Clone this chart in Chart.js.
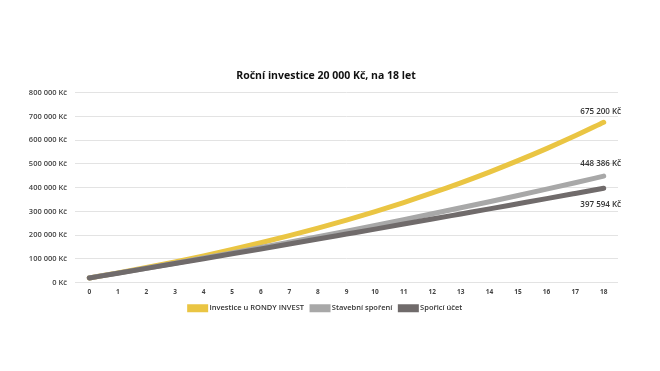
<!DOCTYPE html>
<html>
<head>
<meta charset="utf-8">
<script src="https://cdn.jsdelivr.net/npm/chart.js@4/dist/chart.umd.min.js"></script>
<style>
html,body{margin:0;padding:0;background:#fff;}
#c{display:block;}
</style>
</head>
<body>
<canvas id="c" width="660" height="371"></canvas>
<script>
const years = ['0','1','2','3','4','5','6','7','8','9','10','11','12','13','14','15','16','17','18'];
const rondy = [20000,41200,63700,87500,112700,139500,167900,198000,229800,263600,299400,337400,377600,420300,465500,513500,564300,618100,675200];
const stavebni = [20000,40400,61100,82200,103700,125500,147800,170500,193500,217000,240900,265200,290000,315200,340900,367100,393700,420700,448386];
const sporici = [20000,40100,60300,80600,101000,121500,142100,162800,183600,204600,225600,246700,267900,289300,310700,332300,353900,375700,397594];
const seriesNames = ['Investice u RONDY INVEST','Stavební spoření','Spořicí účet'];
const endLabels = ['675 200 Kč','448 386 Kč','397 594 Kč'];
const titleText = 'Roční investice 20 000 Kč, na 18 let';

const FONT = "'Open Sans', 'Liberation Sans', sans-serif";
const fmt = v => String(Math.round(v)).replace(/\B(?=(\d{3})+(?!\d))/g, ' ') + ' Kč';

const endLabelPlugin = {
  id: 'endLabels',
  afterLayout(chart) {
    // centre title and legend like the reference (slightly right of the canvas-left padded box)
    if (chart.titleBlock) { chart.titleBlock.left += 28; }
    if (chart.legend) { chart.legend.left += 28; chart.legend.top -= 6; chart.legend.bottom -= 6; }
  },
  afterDatasetsDraw(chart) {
    const ctx = chart.ctx;
    ctx.save();
    ctx.font = "600 8px " + FONT;
    ctx.fillStyle = '#333333';
    ctx.textAlign = 'center';
    ctx.textBaseline = 'middle';
    const offs = [-11, -12, 16];
    chart.data.datasets.forEach((ds, i) => {
      const meta = chart.getDatasetMeta(i);
      const pt = meta.data[meta.data.length - 1];
      ctx.fillText(endLabels[i], pt.x - 3, pt.y + offs[i]);
    });
    ctx.restore();
  }
};

new Chart(document.getElementById('c'), {
  type: 'line',
  data: {
    labels: years,
    datasets: [
      {label: seriesNames[0], data: rondy, borderColor: '#EAC543', backgroundColor: '#EAC543', order: 3},
      {label: seriesNames[1], data: stavebni, borderColor: '#A8A8A8', backgroundColor: '#A8A8A8', order: 2},
      {label: seriesNames[2], data: sporici, borderColor: '#706B6B', backgroundColor: '#706B6B', order: 1}
    ]
  },
  options: {
    responsive: false,
    animation: false,
    devicePixelRatio: 1,
    layout: {padding: {top: 70, bottom: 43, left: 6, right: 42}},
    elements: {
      line: {borderWidth: 5, tension: 0.4, borderCapStyle: 'round', cubicInterpolationMode: 'monotone'},
      point: {radius: 0}
    },
    plugins: {
      title: {display: true, text: titleText, color: '#111', font: {family: FONT, size: 10.5, weight: 'bold'}, padding: {top: 0, bottom: 10}},
      legend: {
        position: 'bottom',
        labels: {
          sort: (a, b) => a.datasetIndex - b.datasetIndex,
          boxWidth: 16, boxHeight: 3, padding: 8,
          color: '#333', font: {family: FONT, size: 7.5, weight: '600'}
        }
      },
      tooltip: {enabled: false}
    },
    scales: {
      x: {
        offset: true,
        grid: {display: false, drawTicks: false},
        border: {display: false},
        ticks: {color: '#444', font: {family: FONT, size: 6.5, weight: 'bold'}, padding: 6, maxRotation: 0, autoSkip: false}
      },
      y: {
        min: 0, max: 800000,
        ticks: {stepSize: 100000, callback: v => fmt(v), color: '#444', font: {family: FONT, size: 7.5, weight: '600'}, padding: 8},
        grid: {color: '#E3E3E3', drawTicks: false},
        border: {display: false},
        afterFit: s => { s.width = 69; }
      }
    }
  },
  plugins: [endLabelPlugin]
});
</script>
</body>
</html>
